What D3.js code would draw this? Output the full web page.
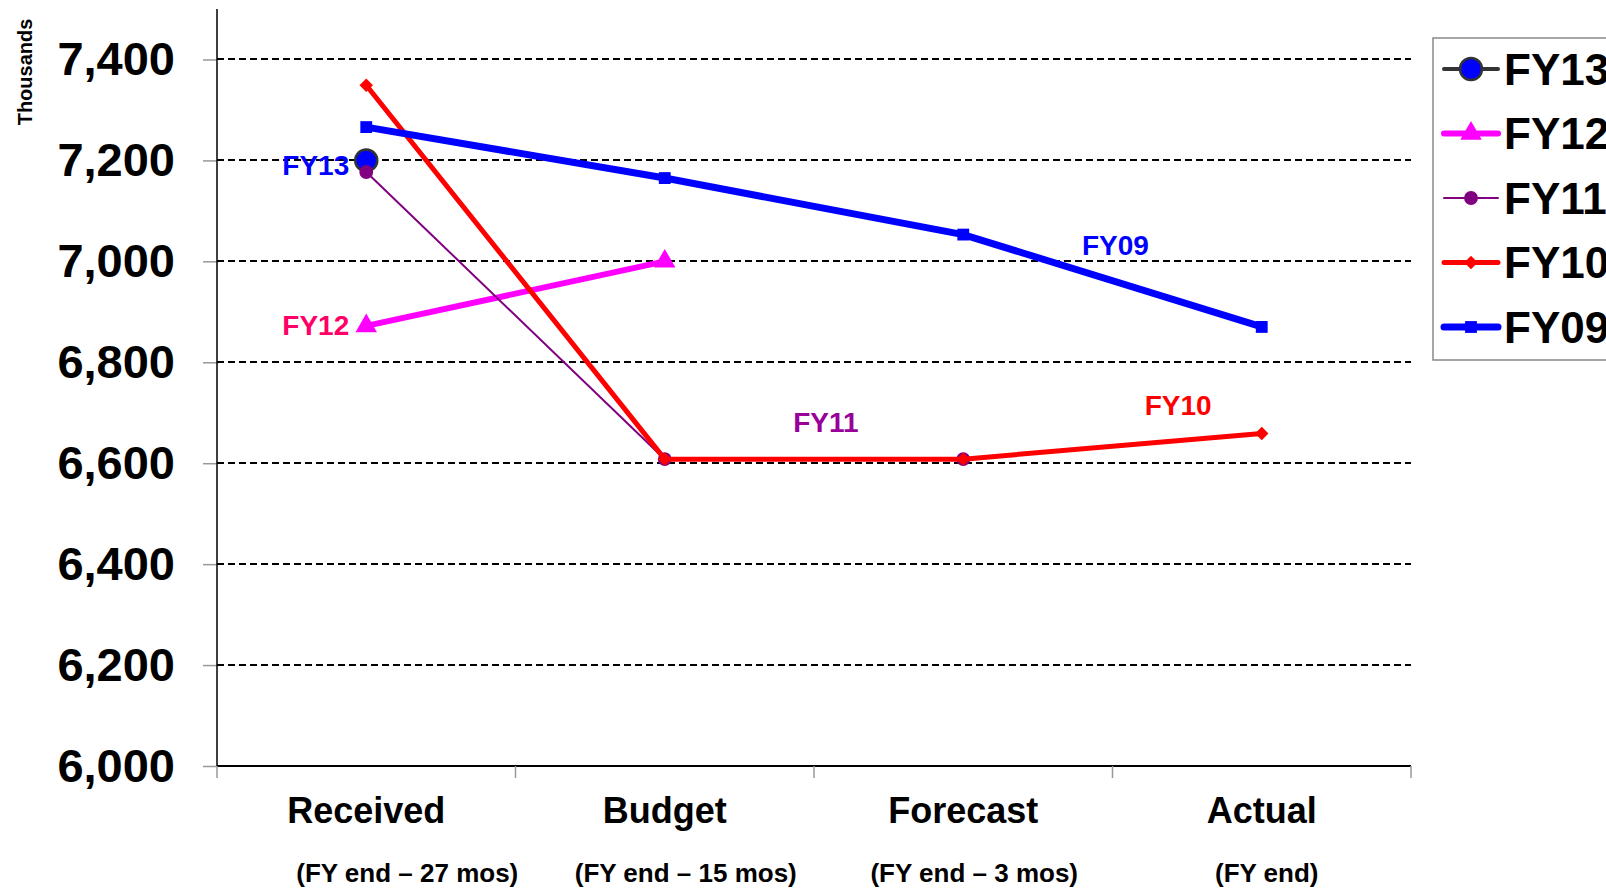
<!DOCTYPE html>
<html>
<head>
<meta charset="utf-8">
<script src="https://cdn.jsdelivr.net/npm/d3@7"></script>
<style>
  body { margin: 0; background: #fff; }
  svg { display: block; font-family: "Liberation Sans", Arial, sans-serif; font-weight: bold; }
  .grid line { stroke: #000; stroke-width: 2; stroke-dasharray: 7 4; shape-rendering: crispEdges; }
</style>
</head>
<body>
<svg width="1606" height="889"></svg>
<script>
// data
const categories = ["Received", "Budget", "Forecast", "Actual"]
const subLabels = ["(FY end \u2013 27 mos)", "(FY end \u2013 15 mos)", "(FY end \u2013 3 mos)", "(FY end)"]
const yTicks = [6000, 6200, 6400, 6600, 6800, 7000, 7200, 7400]

const fy13 = [7200, null, null, null]
const fy12 = [6872, 7000, null, null]
const fy11 = [7177, 6608, 6608, null]
const fy10 = [7349, 6608, 6608, 6659]
const fy09 = [7266, 7165, 7053, 6870]

const seriesNames = ["FY13", "FY12", "FY11", "FY10", "FY09"]
const seriesValues = [fy13, fy12, fy11, fy10, fy09]

// look of each series
const styles = {
  FY13: { line: "#333333", width: 4, marker: "circle", fill: "#0000ff", stroke: "#333333", size: 380 },
  FY12: { line: "#ff00ff", width: 6, marker: "triangle", fill: "#ff00ff", stroke: "none", size: 200 },
  FY11: { line: "#800080", width: 2, marker: "circle", fill: "#800080", stroke: "none", size: 150 },
  FY10: { line: "#ff0000", width: 5, marker: "diamond", fill: "#ff0000", stroke: "none", size: 90 },
  FY09: { line: "#0000ff", width: 7, marker: "square", fill: "#0000ff", stroke: "none", size: 140 }
}

const svg = d3.select("svg")

// scales
const x = d3.scaleBand()
  .domain(categories)
  .range([217, 1411])
  .padding(0)

const xMid = c => x(c) + x.bandwidth() / 2

const xIdx = d3.scaleLinear()
  .domain([0, categories.length - 1])
  .range([xMid(categories[0]), xMid(categories[categories.length - 1])])

const y = d3.scaleLinear()
  .domain([6000, 7500])
  .range([766, 9])

// dashed gridlines
svg.append("g")
  .attr("class", "grid")
  .selectAll("line")
  .data(yTicks.filter(t => t > 6000))
  .enter()
  .append("line")
  .attr("x1", 217)
  .attr("x2", 1411)
  .attr("y1", d => Math.round(y(d)))
  .attr("y2", d => Math.round(y(d)))

// y axis
const yAxis = svg.append("g")
  .attr("transform", "translate(217,0)")
  .call(d3.axisLeft(y).tickValues(yTicks).tickFormat(d3.format(",")).tickSize(14).tickPadding(28))
yAxis.select(".domain").remove()
yAxis.selectAll(".tick line").attr("stroke", "#999").attr("stroke-width", 1.5)
yAxis.selectAll(".tick text")
  .attr("font-size", 47)
  .attr("font-family", "'Liberation Sans', Arial, sans-serif")
  .attr("font-weight", "bold")
  .attr("fill", "#000")

svg.append("line")
  .attr("x1", 217).attr("x2", 217)
  .attr("y1", y(7500)).attr("y2", y(6000))
  .attr("stroke", "#000").attr("stroke-width", 1.5)

// x axis
const xAxis = svg.append("g")
  .attr("transform", `translate(0,${y(6000)})`)
xAxis.append("line")
  .attr("x1", 217).attr("x2", 1411)
  .attr("stroke", "#000").attr("stroke-width", 2)
xAxis.selectAll("line.tick")
  .data(categories.concat(["end"]))
  .enter()
  .append("line")
  .attr("class", "tick")
  .attr("x1", (d, i) => i < categories.length ? x(d) : 1411)
  .attr("x2", (d, i) => i < categories.length ? x(d) : 1411)
  .attr("y1", 0).attr("y2", 12)
  .attr("stroke", "#999").attr("stroke-width", 1.5)

xAxis.selectAll("text.cat")
  .data(categories)
  .enter()
  .append("text")
  .attr("class", "cat")
  .attr("x", d => xMid(d))
  .attr("y", 57)
  .attr("text-anchor", "middle")
  .attr("font-size", 36)
  .text(d => d)

// sub labels sit a bit right of the category centres, like the original text box
const subShift = [41, 21, 11, 5]
xAxis.selectAll("text.sub")
  .data(subLabels)
  .enter()
  .append("text")
  .attr("class", "sub")
  .attr("x", (d, i) => xMid(categories[i]) + subShift[i])
  .attr("y", 116)
  .attr("text-anchor", "middle")
  .attr("font-size", 26)
  .text(d => d)

// units label
svg.append("text")
  .attr("transform", "translate(32,72) rotate(-90)")
  .attr("text-anchor", "middle")
  .attr("font-size", 20)
  .text("Thousands")

// marker shapes (diamond = square turned 45deg, like Excel's)
const symbolType = {
  circle: d3.symbolCircle,
  triangle: d3.symbolTriangle,
  diamond: d3.symbolSquare,
  square: d3.symbolSquare
}
const symbolTurn = m => m === "diamond" ? " rotate(45)" : ""

const line = d3.line()
  .defined(d => d.v != null)
  .x(d => xMid(d.c))
  .y(d => y(d.v))

// draw series in legend order so FY09 ends up on top
seriesNames.forEach((name, si) => {
  const st = styles[name]
  const pts = seriesValues[si].map((v, i) => ({ c: categories[i], v: v }))
  const g = svg.append("g").attr("class", "series")

  if (pts.filter(p => p.v != null).length > 1) {
    g.append("path")
      .datum(pts)
      .attr("d", line)
      .attr("fill", "none")
      .attr("stroke", st.line)
      .attr("stroke-width", st.width)
      .attr("stroke-linejoin", "round")
  }

  g.selectAll("path.marker")
    .data(pts.filter(p => p.v != null))
    .enter()
    .append("path")
    .attr("class", "marker")
    .attr("d", d3.symbol().type(symbolType[st.marker]).size(st.size))
    .attr("transform", d => `translate(${xMid(d.c)},${y(d.v)})` + symbolTurn(st.marker))
    .attr("fill", st.fill)
    .attr("stroke", st.stroke)
    .attr("stroke-width", st.stroke === "none" ? 0 : 2.5)
})

// series labels inside the plot
const seriesLabels = [
  { text: "FY13", at: 0, value: 7191, dx: -17, anchor: "end", color: "#0000ff" },
  { text: "FY12", at: 0, value: 6874, dx: -17, anchor: "end", color: "#ff0066" },
  { text: "FY11", at: 1.54, value: 6682, dx: 0, anchor: "middle", color: "#990099" },
  { text: "FY10", at: 2.72, value: 6714, dx: 0, anchor: "middle", color: "#ff0000" },
  { text: "FY09", at: 2.51, value: 7032, dx: 0, anchor: "middle", color: "#0000ff" }
]

svg.selectAll("text.slabel")
  .data(seriesLabels)
  .enter()
  .append("text")
  .attr("class", "slabel")
  .attr("x", d => xIdx(d.at) + d.dx)
  .attr("y", d => y(d.value))
  .attr("dy", "0.35em")
  .attr("text-anchor", d => d.anchor)
  .attr("font-size", 28)
  .attr("fill", d => d.color)
  .text(d => d.text)

// legend (runs off the right edge, as in the original)
const legend = svg.append("g").attr("transform", "translate(1433,38)")
legend.append("rect")
  .attr("width", 200)
  .attr("height", 322)
  .attr("fill", "#fff")
  .attr("stroke", "#888")
  .attr("stroke-width", 1.5)

const items = legend.selectAll("g.item")
  .data(seriesNames)
  .enter()
  .append("g")
  .attr("class", "item")
  .attr("transform", (d, i) => `translate(0,${31 + i * 64.5})`)

items.append("line")
  .attr("x1", 11).attr("x2", 65)
  .attr("stroke", d => styles[d].line)
  .attr("stroke-width", d => Math.max(styles[d].width, 2))
  .attr("stroke-linecap", "round")

items.append("path")
  .attr("d", d => d3.symbol().type(symbolType[styles[d].marker]).size(styles[d].size)())
  .attr("transform", d => "translate(38,0)" + symbolTurn(styles[d].marker))
  .attr("fill", d => styles[d].fill)
  .attr("stroke", d => styles[d].stroke)
  .attr("stroke-width", d => styles[d].stroke === "none" ? 0 : 2.5)

items.append("text")
  .attr("x", 71)
  .attr("dy", "0.36em")
  .attr("font-size", 44)
  .attr("fill", "#000")
  .text(d => d)
</script>
</body>
</html>
